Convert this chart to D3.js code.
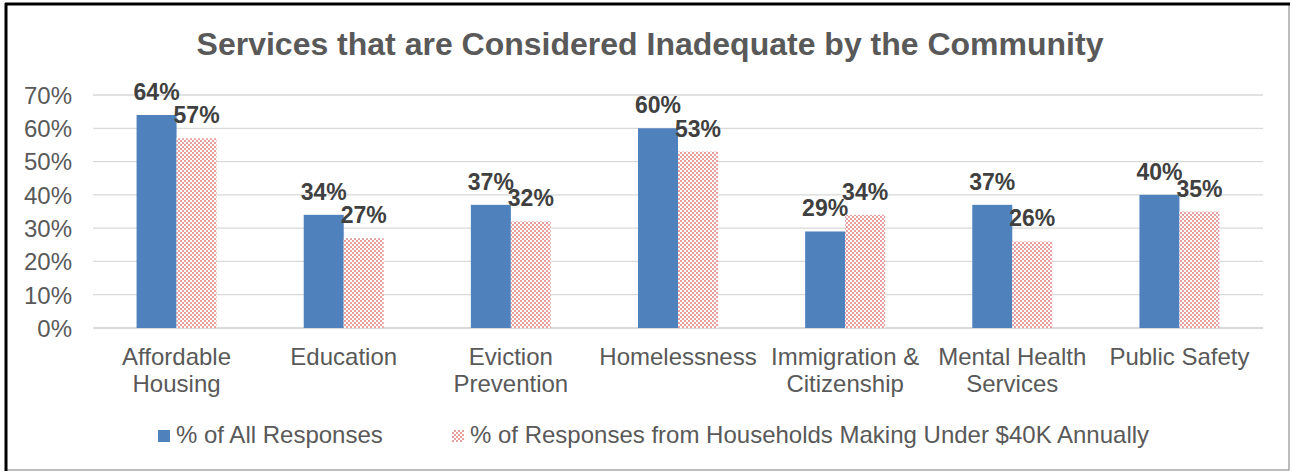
<!DOCTYPE html>
<html><head><meta charset="utf-8">
<script src="https://cdn.jsdelivr.net/npm/d3@7"></script>
<style>body{margin:0;background:#fff}svg{display:block}text{font-family:"Liberation Sans",Arial,sans-serif}</style>
</head><body><svg id="c" width="1292" height="472"></svg>
<script>
const categories = [["Affordable","Housing"],["Education"],["Eviction","Prevention"],["Homelessness"],["Immigration &","Citizenship"],["Mental Health","Services"],["Public Safety"]];
const allResponses = [0.64,0.34,0.37,0.60,0.29,0.37,0.40];
const under40k = [0.57,0.27,0.32,0.53,0.34,0.26,0.35];
const seriesNames = ["% of All Responses","% of Responses from Households Making Under $40K Annually"];
const yTicks = [0,0.1,0.2,0.3,0.4,0.5,0.6,0.7];
const title = "Services that are Considered Inadequate by the Community";

const svg = d3.select("#c");
const defs = svg.append("defs");
const pat = defs.append("pattern").attr("id","pk").attr("patternUnits","userSpaceOnUse").attr("width",4).attr("height",4);
pat.append("rect").attr("width",4).attr("height",4).attr("fill","#fff");
pat.append("rect").attr("x",0).attr("y",0).attr("width",2).attr("height",2).attr("fill","#e6a0a0");
pat.append("rect").attr("x",2).attr("y",2).attr("width",2).attr("height",2).attr("fill","#e6a0a0");

// border
svg.append("rect").attr("x",6).attr("y",4).attr("width",1283).attr("height",466).attr("fill","#fff").attr("stroke","#999").attr("stroke-width",1.3);
svg.append("line").attr("x1",6).attr("x2",6).attr("y1",3).attr("y2",471).attr("stroke","#000").attr("stroke-width",3);
svg.append("line").attr("x1",5).attr("x2",1290).attr("y1",4).attr("y2",4).attr("stroke","#000").attr("stroke-width",3);

svg.append("text").attr("x",650).attr("y",55).attr("text-anchor","middle").attr("font-size",32).attr("font-weight","bold").attr("fill","#595959").text(title);

const x = d3.scaleBand().domain(d3.range(categories.length)).range([93,1263]).padding(0);
const x1 = d3.scaleBand().domain([0,1]).range([0,80]);
const y = d3.scaleLinear().domain([0,0.7]).range([328,95]);

const g = svg.append("g");
g.selectAll("line.grid").data(yTicks).join("line").attr("class","grid")
 .attr("x1",93).attr("x2",1263).attr("y1",d=>y(d)).attr("y2",d=>y(d))
 .attr("stroke","#d9d9d9").attr("stroke-width",d=>d===0?2:1.3);

const yAxis = d3.axisLeft(y).tickValues(yTicks).tickFormat(d3.format(".0%")).tickSize(0).tickPadding(0);
const ya = svg.append("g").attr("transform","translate(72,0)").call(yAxis);
ya.select(".domain").remove();
ya.selectAll("text").attr("font-size",24).attr("fill","#595959").attr("font-family","Liberation Sans, Arial, sans-serif").attr("dy","0.35em");

const series = [allResponses, under40k];
const fills = ["#4f81bd","url(#pk)"];
series.forEach((vals,si)=>{
  const off = x.bandwidth()/2 - 40;
  g.selectAll("rect.s"+si).data(vals).join("rect").attr("class","s"+si)
   .attr("x",(d,i)=>x(i)+off+x1(si)).attr("width",x1.bandwidth())
   .attr("y",d=>y(d)).attr("height",d=>y(0)-y(d)).attr("fill",fills[si]);
  g.selectAll("text.l"+si).data(vals).join("text").attr("class","l"+si)
   .attr("x",(d,i)=>x(i)+off+x1(si)+x1.bandwidth()/2).attr("y",d=>y(d)-15)
   .attr("text-anchor","middle").attr("font-size",23).attr("font-weight","bold").attr("fill","#404040")
   .text(d=>d3.format(".0%")(d));
});

// category labels
const cl = svg.append("g");
categories.forEach((lines,i)=>{
  const t = cl.append("text").attr("x",x(i)+x.bandwidth()/2).attr("y",365).attr("text-anchor","middle").attr("font-size",24).attr("fill","#595959");
  lines.forEach((ln,j)=>t.append("tspan").attr("x",x(i)+x.bandwidth()/2).attr("dy",j===0?0:27).text(ln));
});

// legend
const leg = [{x:158,tx:176},{x:452,tx:470}];
seriesNames.forEach((n,i)=>{
  svg.append("rect").attr("x",leg[i].x).attr("y",430).attr("width",12).attr("height",12).attr("fill",fills[i]);
  svg.append("text").attr("x",leg[i].tx).attr("y",443).attr("font-size",24).attr("fill","#595959").text(n);
});
</script></body></html>
